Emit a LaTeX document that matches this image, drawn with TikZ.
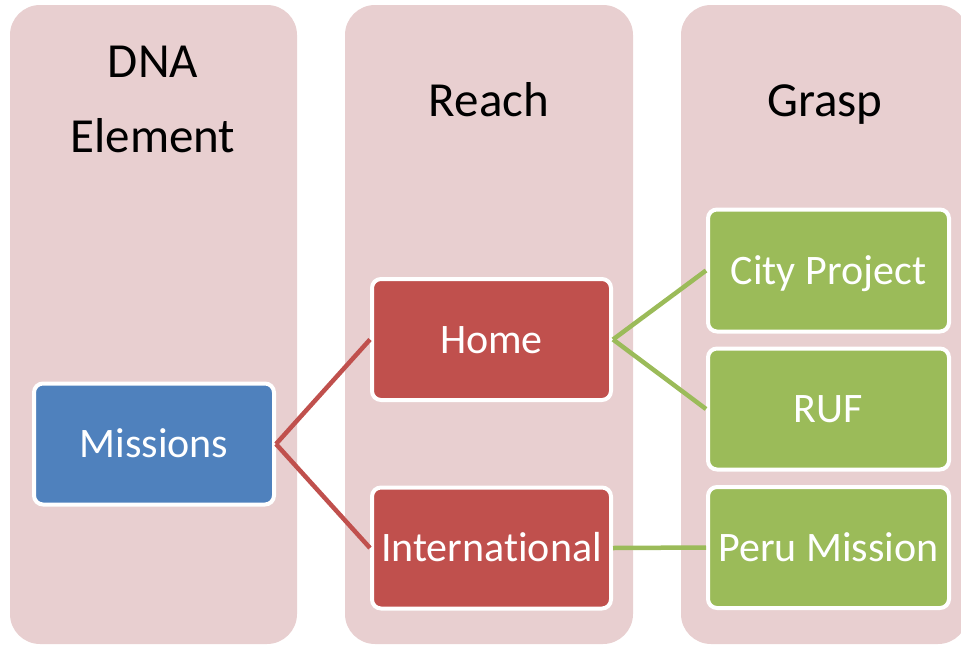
\documentclass[tikz,border=0pt]{standalone}
\usepackage{fontspec}
\setmainfont[Ligatures=NoCommon]{Carlito}
\definecolor{colbg}{HTML}{E8CFD0}
\definecolor{cblue}{HTML}{4F81BD}
\definecolor{cred}{HTML}{C0504D}
\definecolor{cgreen}{HTML}{9BBB59}
\begin{document}
\begin{tikzpicture}[x=1pt,y=-1pt,
  column/.style={fill=colbg,rounded corners=30pt},
  title/.style={font=\fontsize{49}{75}\selectfont,text=black,align=center,inner sep=0pt},
  item/.style={draw=white,line width=4pt,rounded corners=9pt,minimum width=240pt,minimum height=121pt,
    text=white,font=\fontsize{42}{50}\selectfont,text height=27pt,text depth=0pt,inner sep=0pt},
  blueitem/.style={item,fill=cblue},
  reditem/.style={item,fill=cred},
  greenitem/.style={item,fill=cgreen},
  redlink/.style={draw=cred,line width=4.5pt},
  greenlink/.style={draw=cgreen,line width=4.5pt}]
\useasboundingbox (0,0) rectangle (961,645);
\clip (0,0) rectangle (961,645);
\fill[column] (10,5) rectangle (297,644);
\fill[column] (345,5) rectangle (633,644);
\fill[column] (681,5) rectangle (968,644);
\node[title,anchor=base] (t1) at (153,152) {DNA\\Element};
\node[title,anchor=base] (t2) at (489,116) {Reach};
\node[title,anchor=base] (t3) at (825,116) {Grasp};
\node[blueitem] (missions) at (154,444) {Missions};
\node[reditem,minimum width=239pt] (home) at (491.5,339.5) {Home};
\node[reditem,minimum width=239pt] (intl) at (491.5,548) {International};
\node[greenitem,minimum width=241pt,minimum height=122pt] (city) at (828.5,270.5) {City Project};
\node[greenitem,minimum width=241pt,minimum height=121pt] (ruf) at (828.5,409) {RUF};
\node[greenitem,minimum width=241pt,minimum height=121pt] (peru) at (828.5,547.5) {Peru Mission};
\draw[redlink] (missions.east) -- (home.west);
\draw[redlink] (missions.east) -- (intl.west);
\draw[greenlink] (home.east) -- (city.west);
\draw[greenlink] (home.east) -- (ruf.west);
\draw[greenlink] (intl.east) -- (peru.west);
\end{tikzpicture}
\end{document}
